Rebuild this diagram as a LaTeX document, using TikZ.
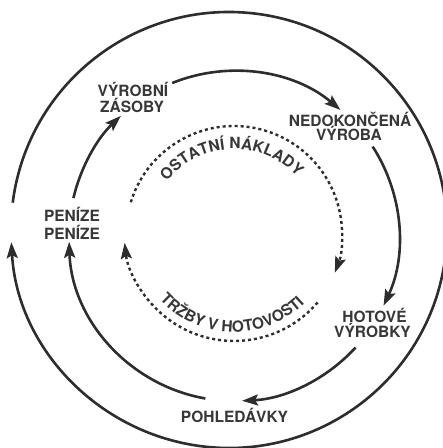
\documentclass[tikz,border=0pt]{standalone}
\usepackage{fontspec}
\setmainfont{TeX Gyre Heros}
\usetikzlibrary{arrows.meta,decorations.text,calc}
\definecolor{ink}{RGB}{45,45,45}
\definecolor{txt}{RGB}{55,55,55}
\newcommand\lblfont{\fontsize{15.5}{16}\selectfont\bfseries}
\begin{document}
\begin{tikzpicture}[x=1pt,y=1pt,
  flow/.style={draw=ink, line width=2.6pt, -{Stealth[length=16pt,width=11pt,inset=3pt]}},
  dotflow/.style={flow, line width=2.4pt, dash pattern=on 3pt off 3pt},
  lab/.style={text=txt, font=\lblfont, inner sep=0pt, anchor=base},
  arctext/.style={decorate, decoration={text along path, text align=center, text color=txt}},
]
\useasboundingbox (0,0) rectangle (443,448);
\coordinate (oc) at (229,218);
\coordinate (mc) at (234,212);
\coordinate (tc) at (234,214);
\coordinate (bc) at (234,217);

% labels
\node[lab] (pen1) at (72,226) {PENÍZE};
\node[lab] (pen2) at (72,208) {PENÍZE};
\node[lab] (vz1) at (133,351) {VÝROBNÍ};
\node[lab] (vz2) at (132,335) {ZÁSOBY};
\node[lab] (nv1) at (350,321) {NEDOKONČENÁ};
\node[lab] (nv2) at (349,307) {VÝROBA};
\node[lab] (hv1) at (374.5,125) {HOTOVÉ};
\node[lab] (hv2) at (372.5,110) {VÝROBKY};
\node[lab] (poh) at (234.5,25) {POHLEDÁVKY};

% outer cycle
\draw[flow] ($(oc)+(172.8:218)$) arc[start angle=172.8, end angle=-176.8, radius=218];

% middle cycle
\draw[flow] ($(mc)+(166.7:165)$) arc[start angle=166.7, end angle=133.3, radius=165];
\draw[flow] ($(mc)+(112:165)$) arc[start angle=112, end angle=49.8, radius=165];
\draw[flow] ($(mc)+(32.8:165)$) arc[start angle=32.8, end angle=-25, radius=165];
\draw[flow] ($(mc)+(-42.5:165)$) arc[start angle=-42.5, end angle=-87.2, radius=165];
\draw[flow] ($(mc)+(-100:165)$) arc[start angle=-100, end angle=-178, radius=165];

% inner dotted arcs
\draw[dotflow] ($(tc)+(162.9:108)$) arc[start angle=162.9, end angle=-21, radius=108];
\draw[dotflow] ($(bc)+(-40.5:110)$) arc[start angle=-40.5, end angle=-173.8, radius=110];

% arc texts
\path[arctext, decoration={text={|\lblfont|OSTATNÍ NÁKLADY}}]
  ($(tc)+(141:85)$) arc[start angle=141, end angle=43, radius=85];
\path[arctext, decoration={text={|\lblfont|TRŽBY V HOTOVOSTI}}]
  ($(bc)+(-141:101)$) arc[start angle=-141, end angle=-42, radius=101];
\end{tikzpicture}
\end{document}
